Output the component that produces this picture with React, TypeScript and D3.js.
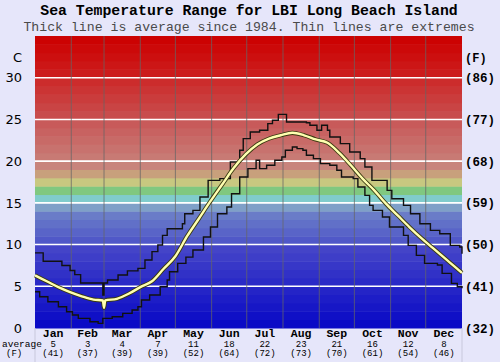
import * as d3 from "d3";
import React from "react";

// monthly summary shown under the chart
const months = ["Jan", "Feb", "Mar", "Apr", "May", "Jun", "Jul", "Aug", "Sep", "Oct", "Nov", "Dec"];
const monthAvgC = [5, 3, 4, 7, 11, 18, 22, 23, 21, 16, 12, 8];
const monthAvgF = [41, 37, 39, 39, 52, 64, 72, 73, 70, 61, 54, 46];
const monthStarts = [0, 31, 59, 90, 120, 151, 181, 212, 243, 273, 304, 334, 365];

const ticksC = [0, 5, 10, 15, 20, 25, 30];
const ticksF = [32, 41, 50, 59, 68, 77, 86];

// average since 1984 (day of year, deg C)
const avgDays = [0, 10, 20, 30, 40, 50, 58, 59, 60, 70, 80, 90, 100, 110, 120, 130, 140, 150, 160, 170, 180, 190, 200, 210, 220, 230, 240, 250, 260, 270, 280, 290, 300, 310, 320, 330, 340, 350, 360, 365];
const avgTemps = [6.3, 5.6, 4.9, 4.3, 3.8, 3.4, 3.3, 2.4, 3.3, 3.5, 4.1, 4.9, 5.6, 7.1, 8.6, 11.0, 13.1, 15.2, 17.2, 19.2, 20.8, 22.0, 22.7, 23.1, 23.4, 23.1, 22.6, 22.2, 21.0, 19.5, 17.9, 16.5, 14.9, 13.5, 12.1, 10.8, 9.6, 8.4, 7.2, 6.6];

// warmest extreme
const maxDays = [0, 7, 23, 30, 34, 39, 58, 59, 62, 71, 79, 88, 94, 100, 105, 109, 113, 126, 128, 135, 141, 148, 158, 167, 175, 178, 184, 192, 199, 203, 208, 215, 232, 235, 241, 245, 250, 252, 261, 269, 278, 282, 288, 301, 305, 315, 321, 329, 338, 346, 355, 363, 365];
const maxTemps = [9.0, 8.0, 7.5, 6.9, 6.4, 5.4, 3.95, 5.4, 5.75, 6.35, 6.85, 7.15, 8.15, 9.15, 9.95, 11.1, 11.9, 12.5, 13.7, 14.1, 15.7, 17.7, 17.9, 19.9, 21.3, 22.7, 23.5, 23.7, 24.5, 24.9, 25.6, 24.7, 24.6, 24.3, 23.7, 24.3, 23.7, 22.9, 22.1, 21.1, 20.3, 19.3, 17.7, 16.5, 15.5, 14.7, 13.7, 12.5, 11.7, 11.3, 9.9, 9.7, 8.9];

// coldest extreme
const minDays = [0, 4, 11, 20, 27, 32, 37, 47, 54, 58, 66, 75, 83, 88, 91, 98, 107, 113, 115, 122, 129, 135, 144, 150, 156, 164, 168, 175, 182, 189, 192, 198, 205, 211, 214, 220, 224, 229, 232, 238, 244, 252, 258, 262, 272, 276, 282, 286, 289, 297, 303, 315, 319, 326, 333, 344, 348, 356, 361, 365];
const minTemps = [4.35, 3.75, 3.15, 2.55, 1.95, 1.55, 1.15, 0.75, 0.55, 1.15, 1.35, 1.75, 2.15, 2.55, 3.35, 3.95, 4.95, 5.75, 6.75, 7.75, 8.5, 9.35, 10.9, 12.1, 13.7, 14.5, 16.1, 18.1, 19.1, 20.1, 19.1, 19.5, 20.1, 20.5, 21.3, 21.7, 21.5, 21.3, 20.7, 20.3, 19.7, 19.5, 18.9, 18.1, 17.9, 16.9, 15.9, 14.7, 14.1, 13.3, 12.1, 11.1, 9.9, 8.7, 7.75, 7.55, 6.55, 5.35, 4.95, 4.75];

const W = 500;
const H = 362;
const left = 35, right = 462, top = 36, bottom = 328;

export default function App() {
  const x = d3.scaleLinear().domain([0, 365]).range([left, right]);
  const y = d3.scaleLinear().domain([0, 35]).range([bottom, top]);
  const yF = d3.scaleLinear().domain([32, 95]).range([bottom, top]);

  const bandColor = d3.scaleLinear<string>()
    .domain([0.5, 9.5, 10.5, 13.5, 14.5, 15.5, 16.5, 17.5, 18.5, 19.5, 20.5, 24.5, 25.5, 29.5, 30.5, 34.5])
    .range(["#0a0ac6", "#4444c8", "#5058c8", "#6a7cc8", "#7fa0c8", "#80cccc", "#80c880", "#c8c880", "#c8a07c", "#c8847c", "#c87a74", "#c85a5a", "#c84c4c", "#cc2c2c", "#cc1c1c", "#cc0202"])
    .interpolate(d3.interpolateRgb);

  const bands = d3.range(0, 35);

  const stepLine = d3.line<[number, number]>()
    .x(d => x(d[0]))
    .y(d => y(d[1]))
    .curve(d3.curveStepAfter);

  const smoothLine = d3.line<[number, number]>()
    .x(d => x(d[0]))
    .y(d => y(d[1]))
    .curve(d3.curveMonotoneX);

  const maxPath = stepLine(maxDays.map((d, i) => [d, maxTemps[i]]));
  const minPath = stepLine(minDays.map((d, i) => [d, minTemps[i]]));
  const avgPath = smoothLine(avgDays.map((d, i) => [d, avgTemps[i]]));

  const mono = "'Liberation Mono', 'Courier New', monospace";
  const sans = "'DejaVu Sans', Verdana, sans-serif";

  return (
    <svg width={W} height={H} style={{ position: "absolute", left: 0, top: 0, background: "#e6e6fa" }}>
      <rect x={0} y={0} width={W} height={H} fill="#e6e6fa" />

      <text x={249} y={15} textAnchor="middle" fontFamily={mono} fontWeight="bold" fontSize={14.8} fill="#000">
        Sea Temperature Range for LBI Long Beach Island
      </text>
      <text x={249} y={30.5} textAnchor="middle" fontFamily={mono} fontSize={13.2} fill="#4a4a4a">
        Thick line is average since 1984. Thin lines are extremes
      </text>

      {/* background temperature bands */}
      {bands.map(b => (
        <rect key={b} x={left} y={y(b + 1)} width={right - left} height={y(b) - y(b + 1) + 0.5} fill={bandColor(b + 0.5)} />
      ))}

      {/* white lines every 5 C */}
      {ticksC.filter(t => t > 0).map(t => (
        <line key={t} x1={left} x2={right} y1={y(t)} y2={y(t)} stroke="#fff" strokeWidth={1.6} />
      ))}

      {/* month boundaries */}
      {monthStarts.slice(1, 12).map(d => (
        <line key={d} x1={x(d)} x2={x(d)} y1={top} y2={bottom} stroke="#666" strokeOpacity={0.75} strokeWidth={1} />
      ))}
      <line x1={left} x2={left} y1={bottom} y2={H} stroke="#c8c8dc" />
      <line x1={right} x2={right} y1={bottom} y2={H} stroke="#c8c8dc" />

      <path d={maxPath ?? ""} fill="none" stroke="#111" strokeWidth={1.4} />
      <path d={minPath ?? ""} fill="none" stroke="#111" strokeWidth={1.4} />
      <path d={avgPath ?? ""} fill="none" stroke="#3a3a10" strokeWidth={4.2} strokeLinejoin="round" />
      <path d={avgPath ?? ""} fill="none" stroke="#ffffb0" strokeWidth={2.4} strokeLinejoin="round" />

      {/* left axis, C */}
      <text x={22} y={62} textAnchor="end" fontFamily={sans} fontSize={13} fill="#000">C</text>
      {ticksC.map(t => (
        <text key={t} x={22} y={y(t)} dy="0.36em" textAnchor="end" fontFamily={sans} fontSize={13} fill="#000">
          {t}
        </text>
      ))}

      {/* right axis, F */}
      <text x={465} y={62} fontFamily={mono} fontWeight="bold" fontSize={12} fill="#000">(F)</text>
      {ticksF.map(t => (
        <text key={t} x={465} y={yF(t)} dy="0.36em" fontFamily={mono} fontWeight="bold" fontSize={12.5} fill="#000">
          ({t})
        </text>
      ))}

      {/* month labels with monthly averages */}
      {months.map((m, i) => {
        const cx = x((monthStarts[i] + monthStarts[i + 1]) / 2);
        return (
          <g key={m}>
            <text x={cx} y={337} textAnchor="middle" fontFamily={mono} fontWeight="bold" fontSize={11.5} fill="#000">{m}</text>
            <text x={cx} y={346.5} textAnchor="middle" fontFamily={mono} fontSize={9} fill="#000">{monthAvgC[i]}</text>
            <text x={cx} y={356} textAnchor="middle" fontFamily={mono} fontSize={9} fill="#000">({monthAvgF[i]})</text>
          </g>
        );
      })}
      <text x={2} y={346.5} fontFamily={mono} fontSize={9.5} fill="#000">average</text>
      <text x={6} y={356} fontFamily={mono} fontSize={9} fill="#000">(F)</text>
    </svg>
  );
}
